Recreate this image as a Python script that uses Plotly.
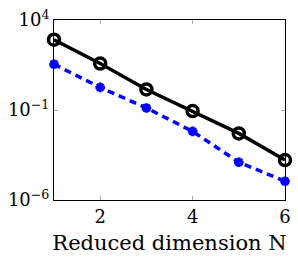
import plotly.graph_objects as go

N = [1, 2, 3, 4, 5, 6]
err_black = [800, 38, 1.38, 0.087, 0.005, 0.000166]
err_blue = [35, 1.8, 0.13, 0.0065, 0.000126, 0.0000110]

ytick_vals = [1e4, 1e-1, 1e-6]
ytick_text = ["10<sup>4</sup>", "10<sup>\u22121</sup>", "10<sup>\u22126</sup>"]
xtick_vals = [2, 4, 6]

font = "'DejaVu Serif', 'Liberation Serif', serif"

fig = go.Figure()
fig.add_trace(go.Scatter(
    x=N, y=err_black, mode="lines+markers",
    line=dict(color="black", width=3.5),
    marker=dict(symbol="circle-open", size=11, color="black", line=dict(width=3.5)),
    showlegend=False, cliponaxis=False))
fig.add_trace(go.Scatter(
    x=N, y=err_blue, mode="lines+markers",
    line=dict(color="blue", width=3.5, dash="7px,5px"),
    marker=dict(symbol="asterisk-open", size=8, color="blue", line=dict(width=3, color="blue")),
    showlegend=False, cliponaxis=False))

fig.update_layout(
    width=298, height=257,
    margin=dict(l=54, r=7, t=11, b=57),
    plot_bgcolor="white", paper_bgcolor="white",
    font=dict(family=font, color="black", size=18),
)
fig.update_xaxes(
    range=[1, 6], tickvals=xtick_vals, ticks="inside", ticklen=4, tickcolor="#aaaaaa",
    showline=True, linecolor="black", linewidth=1, mirror="allticks", showgrid=False,
    zeroline=False, tickfont=dict(size=18, family=font), ticklabeloverflow="allow",
    title=dict(text="Reduced dimension N", font=dict(size=21, family=font), standoff=9),
)
fig.update_yaxes(
    type="log", range=[-6, 4], tickvals=ytick_vals, ticktext=ytick_text,
    ticks="inside", ticklen=4, tickcolor="#aaaaaa",
    showline=True, linecolor="black", linewidth=1, mirror="allticks", showgrid=False,
    zeroline=False, tickfont=dict(size=18, family=font), ticklabeloverflow="allow",
)
fig.write_html("out.html")
